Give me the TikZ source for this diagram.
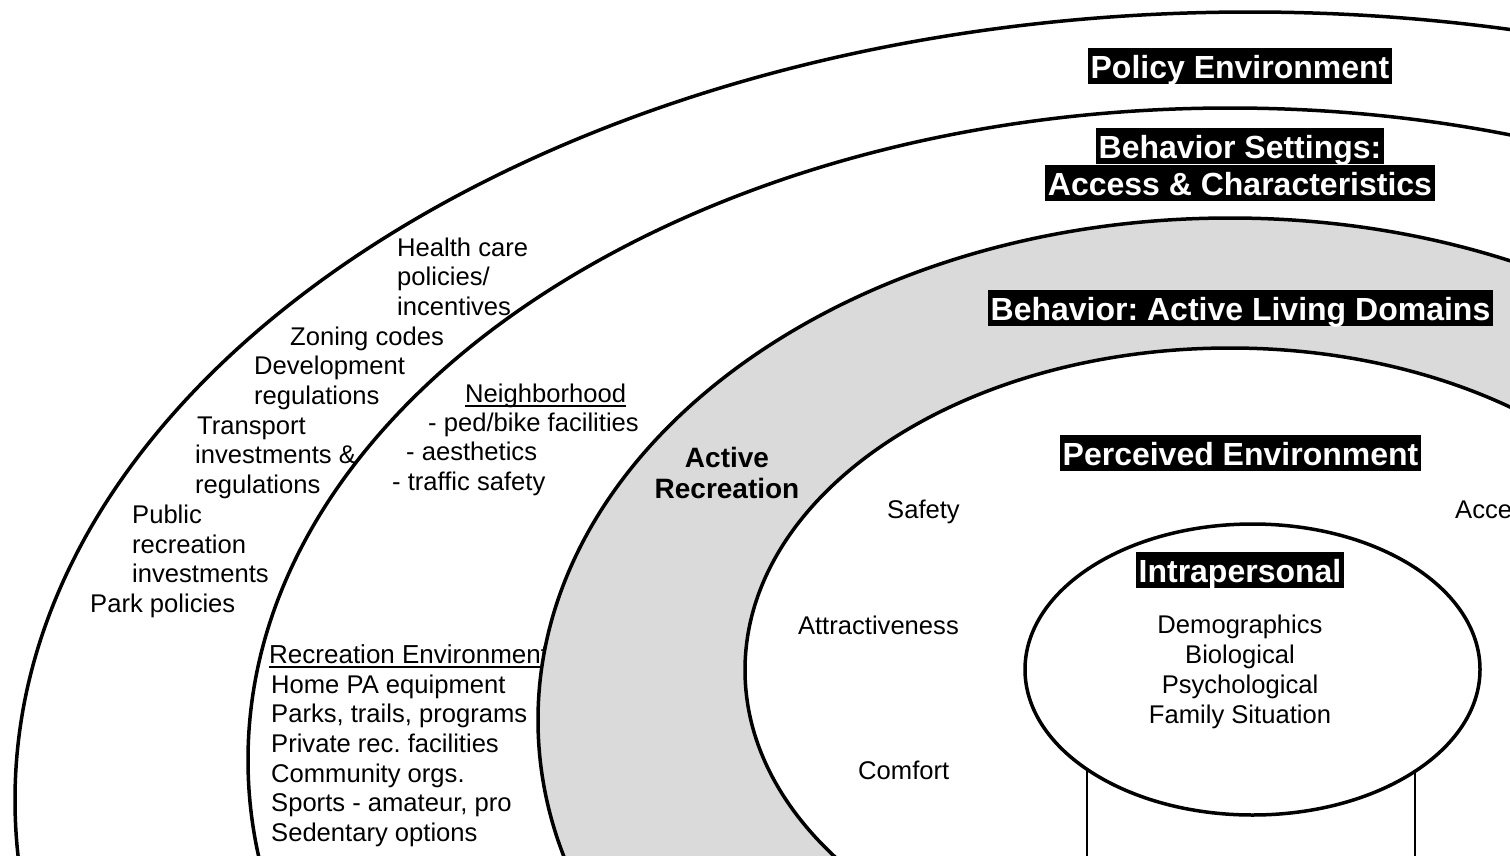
\documentclass[tikz,border=0pt]{standalone}
\usepackage{fontspec}
\setmainfont{Liberation Sans}
\definecolor{bandgray}{RGB}{218,218,218}
\begin{document}
\frenchspacing
\begin{tikzpicture}[x=1pt,y=-1pt,
  txt/.style={anchor=base west, inner sep=0pt, font=\fontsize{25.6}{30}\selectfont},
  ctxt/.style={anchor=base, inner sep=0pt, font=\fontsize{25.6}{30}\selectfont},
  rtxt/.style={anchor=base east, inner sep=0pt, font=\fontsize{25.6}{30}\selectfont},
  blabel/.style={anchor=base, fill=black, text=white, inner xsep=3pt, inner ysep=0pt,
     text height=30pt, text depth=6pt, font=\fontsize{32}{37}\selectfont\bfseries},
  actlabel/.style={anchor=base, inner sep=0pt, font=\fontsize{28}{31}\selectfont\bfseries},
  ring/.style={line width=3.5pt},
  uline/.style={line width=1.6pt}
]
\useasboundingbox (0,0) rectangle (1510,855);
\clip (0,0) rectangle (1510,855);
\fill[white] (0,0) rectangle (1510,855);

% Recreation environment heading (lies under the band fill)
\node[txt, font=\fontsize{26}{30}\selectfont] (re0) at (269,663) {Recreation Environment};
\draw[uline] ([yshift=-4pt]re0.base west) -- ([yshift=-4pt]re0.base east);

% gray band: Behavior
\fill[bandgray, even odd rule] (1230,720) ellipse [x radius=692pt, y radius=502pt]
   (1230,670) ellipse [x radius=485pt, y radius=322pt];

% rings
\draw[ring] (1250,800) ellipse [x radius=1235pt, y radius=788pt];
\draw[ring] (1230,760) ellipse [x radius=982pt, y radius=652pt];
\draw[ring] (1230,720) ellipse [x radius=692pt, y radius=502pt];
\draw[ring] (1230,670) ellipse [x radius=485pt, y radius=322pt];

% intrapersonal
\draw[line width=2.2pt] (1087,700) -- (1087,860);
\draw[line width=2.2pt] (1415,700) -- (1415,860);
\draw[ring, fill=white] (1252.5,669.5) ellipse [x radius=227.5pt, y radius=145.5pt];

% layer titles
\node[blabel] (policy) at (1240,78) {Policy Environment};
\node[blabel] (settings1) at (1240,158) {Behavior Settings:};
\node[blabel] (settings2) at (1240,195) {Access \& Characteristics};
\node[blabel] (behavior) at (1240.5,320) {Behavior: Active Living Domains};
\node[blabel] (perceived) at (1240.5,465) {Perceived Environment};
\node[blabel] (intra) at (1240,582) {Intrapersonal};

% policy environment items
\node[txt] (p1) at (397,256) {Health care};
\node[txt] (p2) at (397,285.7) {policies/};
\node[txt] (p3) at (397,315.4) {incentives};
\node[txt] (p4) at (290,345.1) {Zoning codes};
\node[txt] (p5) at (254,374.8) {Development};
\node[txt] (p6) at (254,404.5) {regulations};
\node[txt] (p7) at (197,434.2) {Transport};
\node[txt] (p8) at (195,463.9) {investments \&};
\node[txt] (p9) at (195,493.6) {regulations};
\node[txt] (p10) at (132,523.3) {Public};
\node[txt] (p11) at (132,553) {recreation};
\node[txt] (p12) at (132,582.7) {investments};
\node[txt] (p13) at (90,612.4) {Park policies};

% neighborhood
\node[txt] (n0) at (465,402) {Neighborhood};
\draw[uline] ([yshift=-3.7pt]n0.base west) -- ([yshift=-3.7pt]n0.base east);
\node[txt] (n1) at (428,431) {- ped/bike facilities};
\node[txt] (n2) at (406,460.5) {- aesthetics};
\node[txt] (n3) at (392,490) {- traffic safety};

% recreation environment items
\node[txt] (re1) at (271,693) {Home PA equipment};
\node[txt] (re2) at (271,722.5) {Parks, trails, programs};
\node[txt] (re3) at (271,752) {Private rec. facilities};
\node[txt] (re4) at (271,782) {Community orgs.};
\node[txt] (re5) at (271,811.5) {Sports - amateur, pro};
\node[txt] (re6) at (271,841) {Sedentary options};

% active recreation
\node[actlabel] (act1) at (727,467) {Active};
\node[actlabel] (act2) at (727,498) {Recreation};

% perceived environment items
\node[txt] (safety) at (887,518) {Safety};
\node[rtxt] (attract) at (959,634) {Attractiveness};
\node[txt] (comfort) at (858,779) {Comfort};
\node[txt] (access) at (1455,518) {Access};

% intrapersonal items
\node[ctxt] (i1) at (1240,633) {Demographics};
\node[ctxt] (i2) at (1240,663) {Biological};
\node[ctxt] (i3) at (1240,693) {Psychological};
\node[ctxt] (i4) at (1240,723) {Family Situation};
\end{tikzpicture}
\end{document}
